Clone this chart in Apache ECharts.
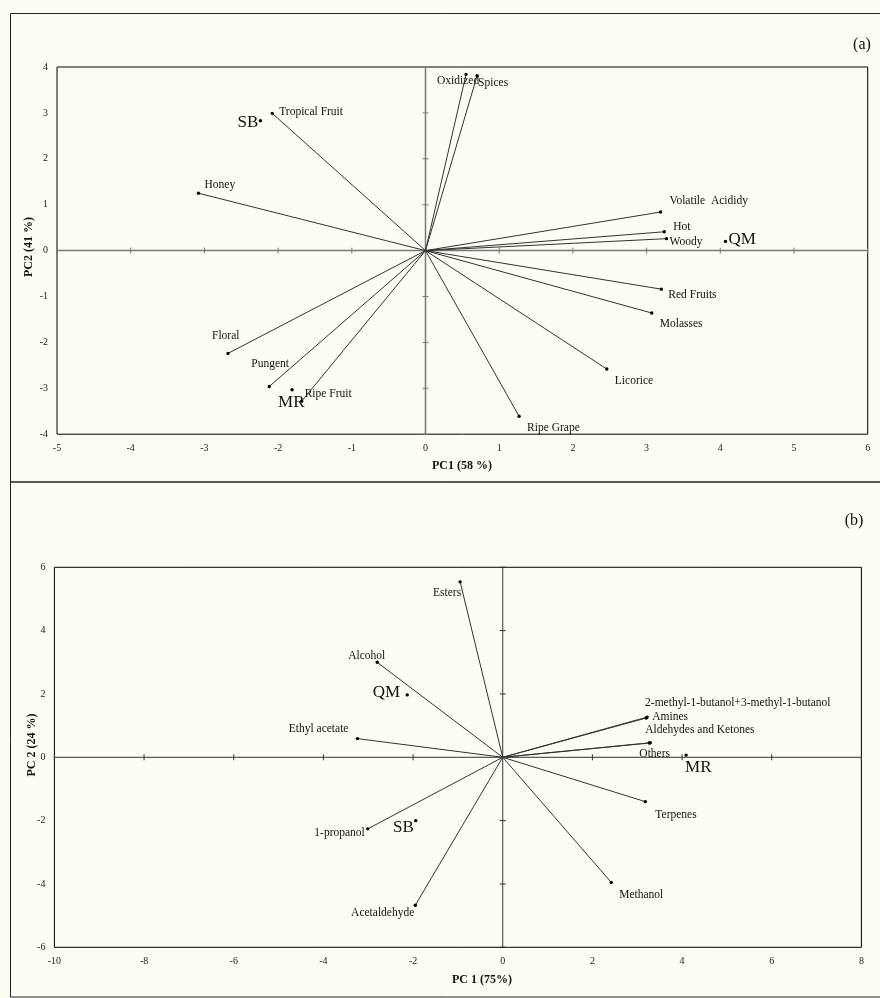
<!DOCTYPE html>
<html><head><meta charset="utf-8">
<script src="https://cdn.jsdelivr.net/npm/echarts@6/dist/echarts.min.js"></script>
<style>html,body{margin:0;padding:0;background:#fdfdf5}#c{width:880px;height:998px}</style>
</head><body><div id="c"></div><script>
// ---------- Panel (a): sensory attributes ----------
const aVarNames = ['Tropical Fruit','Honey','Oxidized','Spices','Volatile  Acididy','Hot','Woody','Red Fruits','Molasses','Licorice','Ripe Grape','Floral','Pungent','Ripe Fruit'];
const aVarPC1 = [-2.08,-3.08,0.55,0.70,3.19,3.24,3.27,3.20,3.07,2.46,1.27,-2.68,-2.12,-1.68];
const aVarPC2 = [2.99,1.25,3.84,3.81,0.84,0.41,0.26,-0.84,-1.36,-2.58,-3.61,-2.24,-2.96,-3.28];
const aSampleNames = ['SB','QM','MR'];
const aSamplePC1 = [-2.24,4.07,-1.81];
const aSamplePC2 = [2.83,0.20,-3.03];
const aXTicks = [-5,-4,-3,-2,-1,0,1,2,3,4,5,6];
const aYTicks = [-4,-3,-2,-1,0,1,2,3,4];

// ---------- Panel (b): volatile compounds ----------
const bVarNames = ['Esters','Alcohol','Ethyl acetate','1-propanol','Acetaldehyde','Methanol','Terpenes','2-methyl-1-butanol+3-methyl-1-butanol','Amines','Aldehydes and Ketones','Others'];
const bVarPC1 = [-0.95,-2.80,-3.24,-3.01,-1.95,2.42,3.18,3.22,3.20,3.29,3.27];
const bVarPC2 = [5.54,3.00,0.59,-2.26,-4.67,-3.95,-1.40,1.27,1.24,0.46,0.45];
const bSampleNames = ['QM','SB','MR'];
const bSamplePC1 = [-2.13,-1.94,4.09];
const bSamplePC2 = [1.97,-2.00,0.07];
const bXTicks = [-10,-8,-6,-4,-2,0,2,4,6,8];
const bYTicks = [-6,-4,-2,0,2,4,6];

// label placement (style): [align, dx, dy] relative to point
const placeA = {
  'Tropical Fruit':['left',7,-1],'Honey':['left',6,-8],'Oxidized':['left',-29,7],'Spices':['left',1,7],
  'Volatile  Acididy':['left',9,-11],'Hot':['left',9,-5],'Woody':['left',3,3],'Red Fruits':['left',7,6],
  'Molasses':['left',8,11],'Licorice':['left',8,12],'Ripe Grape':['left',8,12],'Floral':['left',-16,-17],
  'Pungent':['left',-18,-22],'Ripe Fruit':['left',3,-7],
  'SB':['right',-2,2],'QM':['left',3,-2],'MR':['left',-14,13]
};
const placeB = {
  'Esters':['right',1,11],'Alcohol':['left',-29,-6],'Ethyl acetate':['right',-9,-10],'1-propanol':['right',-3,4],
  'Acetaldehyde':['right',-1,8],'Methanol':['left',8,13],'Terpenes':['left',10,13],
  '2-methyl-1-butanol+3-methyl-1-butanol':['left',-2,-14],'Amines':['left',6,-1],
  'Aldehydes and Ketones':['left',-5,-13],'Others':['left',-10,11],
  'QM':['right',-7,-2],'SB':['right',-2,7],'MR':['left',-1,12]
};

const FONT = '"Liberation Serif","Times New Roman",serif';

function pointSeries(gi, names, xs, ys, place, size) {
  return {
    type: 'custom', xAxisIndex: gi, yAxisIndex: gi, silent: true, z: 4,
    data: xs.map((x, i) => [x, ys[i]]),
    renderItem: (params, api) => {
      const c = api.coord([api.value(0), api.value(1)]);
      const n = names[params.dataIndex];
      const p = place[n];
      return { type: 'group', children: [
        { type: 'circle', shape: { cx: c[0], cy: c[1], r: 1.7 }, style: { fill: '#000' } },
        { type: 'text', x: c[0] + p[1], y: c[1] + p[2],
          style: { text: n, fontSize: size, fontFamily: FONT, fill: '#111', align: p[0], verticalAlign: 'middle' } }
      ] };
    }
  };
}

function vectorSeries(gi, xs, ys, color) {
  return {
    type: 'custom', xAxisIndex: gi, yAxisIndex: gi, silent: true, z: 3,
    data: xs.map((x, i) => [x, ys[i]]),
    renderItem: (params, api) => {
      const p0 = api.coord([0, 0]);
      const p1 = api.coord([api.value(0), api.value(1)]);
      return { type: 'line', shape: { x1: p0[0], y1: p0[1], x2: p1[0], y2: p1[1] },
        style: { stroke: color, lineWidth: 1 } };
    }
  };
}

function crossSeries(gi, xt, yt, color, w) {
  return {
    type: 'custom', xAxisIndex: gi, yAxisIndex: gi, silent: true, z: 2,
    data: [[0, 0]],
    renderItem: (params, api) => {
      const ch = [];
      const xa = api.coord([xt[0], 0]), xb = api.coord([xt[xt.length - 1], 0]);
      const ya = api.coord([0, yt[0]]), yb = api.coord([0, yt[yt.length - 1]]);
      const st = { stroke: color, lineWidth: w };
      ch.push({ type: 'line', shape: { x1: xa[0], y1: xa[1], x2: xb[0], y2: xb[1] }, style: st });
      ch.push({ type: 'line', shape: { x1: ya[0], y1: ya[1], x2: yb[0], y2: yb[1] }, style: st });
      xt.forEach(v => {
        if (v === 0) return;
        const c = api.coord([v, 0]);
        ch.push({ type: 'line', shape: { x1: c[0], y1: c[1] - 3, x2: c[0], y2: c[1] + 3 }, style: { stroke: color, lineWidth: 1 } });
      });
      yt.forEach(v => {
        if (v === 0) return;
        const c = api.coord([0, v]);
        ch.push({ type: 'line', shape: { x1: c[0] - 3, y1: c[1], x2: c[0] + 3, y2: c[1] }, style: { stroke: color, lineWidth: 1 } });
      });
      return { type: 'group', children: ch };
    }
  };
}

const axisLbl = { fontSize: 10, fontFamily: FONT, color: '#222', margin: 9 };
function ax(gi, t) {
  return { type: 'value', gridIndex: gi, min: t[0], max: t[t.length - 1], interval: t[1] - t[0],
    axisLine: { show: false, onZero: false }, axisTick: { show: false }, splitLine: { show: false }, axisLabel: axisLbl };
}

const chart = echarts.init(document.getElementById('c'), null, { renderer: 'canvas' });
chart.setOption({
  backgroundColor: '#fdfdf5',
  animation: false,
  grid: [
    { left: 57, top: 67, width: 810.7, height: 367.2, show: true, borderColor: '#000', borderWidth: 1, backgroundColor: 'transparent' },
    { left: 54.4, top: 567.3, width: 807, height: 380, show: true, borderColor: '#000', borderWidth: 1, backgroundColor: 'transparent' }
  ],
  xAxis: [ax(0, aXTicks), ax(1, bXTicks)],
  yAxis: [ax(0, aYTicks), ax(1, bYTicks)],
  series: [
    crossSeries(0, aXTicks, aYTicks, '#7a7a7a', 1.5),
    vectorSeries(0, aVarPC1, aVarPC2, '#333'),
    pointSeries(0, aVarNames, aVarPC1, aVarPC2, placeA, 11.5),
    pointSeries(0, aSampleNames, aSamplePC1, aSamplePC2, placeA, 17),
    crossSeries(1, bXTicks, bYTicks, '#333', 1),
    vectorSeries(1, bVarPC1, bVarPC2, '#333'),
    pointSeries(1, bVarNames, bVarPC1, bVarPC2, placeB, 11.5),
    pointSeries(1, bSampleNames, bSamplePC1, bSamplePC2, placeB, 17)
  ],
  graphic: [
    { type: 'rect', z: 0, shape: { x: 10.5, y: 13.5, width: 880, height: 468.5 }, style: { fill: 'none', stroke: '#222', lineWidth: 1 } },
    { type: 'rect', z: 0, shape: { x: 10.5, y: 482, width: 880, height: 515 }, style: { fill: 'none', stroke: '#222', lineWidth: 1 } },
    { type: 'text', x: 862, y: 45, style: { text: '(a)', fontSize: 16, fontFamily: FONT, fill: '#111', align: 'center', verticalAlign: 'middle' } },
    { type: 'text', x: 854, y: 521, style: { text: '(b)', fontSize: 16, fontFamily: FONT, fill: '#111', align: 'center', verticalAlign: 'middle' } },
    { type: 'text', x: 462, y: 466, style: { text: 'PC1 (58 %)', fontSize: 12, fontWeight: 'bold', fontFamily: FONT, fill: '#111', align: 'center', verticalAlign: 'middle' } },
    { type: 'text', x: 28.5, y: 247, rotation: Math.PI / 2, style: { text: 'PC2 (41 %)', fontSize: 12, fontWeight: 'bold', fontFamily: FONT, fill: '#111', align: 'center', verticalAlign: 'middle' } },
    { type: 'text', x: 482, y: 980, style: { text: 'PC 1 (75%)', fontSize: 12, fontWeight: 'bold', fontFamily: FONT, fill: '#111', align: 'center', verticalAlign: 'middle' } },
    { type: 'text', x: 31.7, y: 745, rotation: Math.PI / 2, style: { text: 'PC 2 (24 %)', fontSize: 12, fontWeight: 'bold', fontFamily: FONT, fill: '#111', align: 'center', verticalAlign: 'middle' } }
  ]
});
</script></body></html>
